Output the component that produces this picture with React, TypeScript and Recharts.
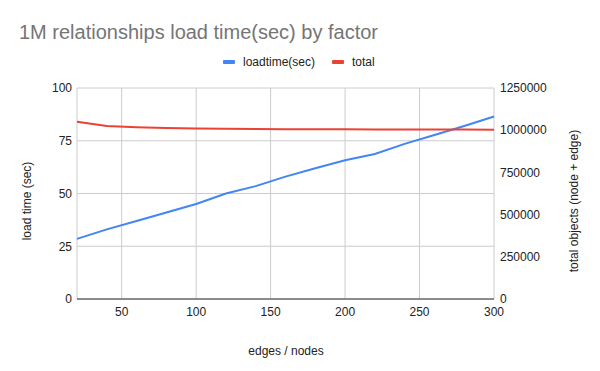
import React from 'react';
import { LineChart, Line, XAxis, YAxis, CartesianGrid } from 'recharts';

const factors = [20, 40, 60, 80, 100, 120, 140, 160, 180, 200, 220, 240, 260, 280, 300];
const loadtime = [28.5, 33, 37, 41, 45, 50, 53.5, 58, 62, 65.8, 68.7, 73.5, 77.7, 82, 86.5];
const total = [1050000, 1025000, 1017000, 1012500, 1010000, 1008000, 1007000, 1006000, 1005500, 1005000, 1004500, 1004000, 1004000, 1003500, 1003300];
const xTicks = [50, 100, 150, 200, 250, 300];
const leftTicks = [0, 25, 50, 75, 100];
const rightTicks = [0, 250000, 500000, 750000, 1000000, 1250000];

const data = factors.map((f, i) => ({ factor: f, loadtime: loadtime[i], total: total[i] }));

const FONT = '"Liberation Sans", Arial, sans-serif';
const BLUE = '#4285F4';
const RED = '#EA4335';

const LeftTitle = () => (
  <text x={31} y={201} transform="rotate(-90 31 201)" textAnchor="middle" fontSize={12} fill="#222" fontFamily={FONT}>
    load time (sec)
  </text>
);
const RightTitle = () => (
  <text x={578} y={201} transform="rotate(-90 578 201)" textAnchor="middle" fontSize={12} fill="#222" fontFamily={FONT}>
    total objects (node + edge)
  </text>
);
const BottomTitle = () => (
  <text x={286} y={355} textAnchor="middle" fontSize={12} fill="#222" fontFamily={FONT}>
    edges / nodes
  </text>
);

export default function App() {
  return (
    <div style={{ position: 'absolute', left: 0, top: 0, width: 600, height: 371, background: '#fff' }}>
      <svg width={600} height={80} style={{ position: 'absolute', left: 0, top: 0 }}>
        <text x={19} y={39} fontSize={20} fill="#757575" fontFamily={FONT}>
          1M relationships load time(sec) by factor
        </text>
        <rect x={223} y={60} width={12} height={4} rx={1} fill={BLUE} />
        <text x={243} y={65.5} fontSize={12} fill="#222" fontFamily={FONT}>loadtime(sec)</text>
        <rect x={332} y={60} width={12} height={4} rx={1} fill={RED} />
        <text x={352} y={65.5} fontSize={12} fill="#222" fontFamily={FONT}>total</text>
      </svg>
      <div style={{ position: 'absolute', left: 0, top: 0 }}>
        <LineChart width={600} height={371} data={data} margin={{ top: 88, right: 0, bottom: 0, left: 0 }}>
          <CartesianGrid yAxisId="left" stroke="#cccccc" strokeWidth={1} />
          <XAxis
            dataKey="factor"
            type="number"
            domain={[20, 300]}
            ticks={xTicks}
            height={72}
            tickSize={0}
            tickMargin={8}
            axisLine={{ stroke: '#333333', strokeWidth: 1 }}
            tickLine={false}
            tick={{ fontSize: 12, fill: '#222', fontFamily: FONT }}
            label={<BottomTitle />}
          />
          <YAxis
            yAxisId="left"
            orientation="left"
            domain={[0, 100]}
            ticks={leftTicks}
            width={77}
            tickSize={0}
            tickMargin={5}
            axisLine={false}
            tickLine={false}
            tick={{ fontSize: 12, fill: '#222', fontFamily: FONT }}
            label={<LeftTitle />}
          />
          <YAxis
            yAxisId="right"
            orientation="right"
            domain={[0, 1250000]}
            ticks={rightTicks}
            width={106}
            tickSize={0}
            tickMargin={6}
            axisLine={false}
            tickLine={false}
            tick={{ fontSize: 12, fill: '#222', fontFamily: FONT, textAnchor: 'start' }}
            label={<RightTitle />}
          />
          <Line yAxisId="left" type="linear" dataKey="loadtime" stroke={BLUE} strokeWidth={2} dot={false} isAnimationActive={false} />
          <Line yAxisId="right" type="linear" dataKey="total" stroke={RED} strokeWidth={2} dot={false} isAnimationActive={false} />
        </LineChart>
      </div>
    </div>
  );
}
